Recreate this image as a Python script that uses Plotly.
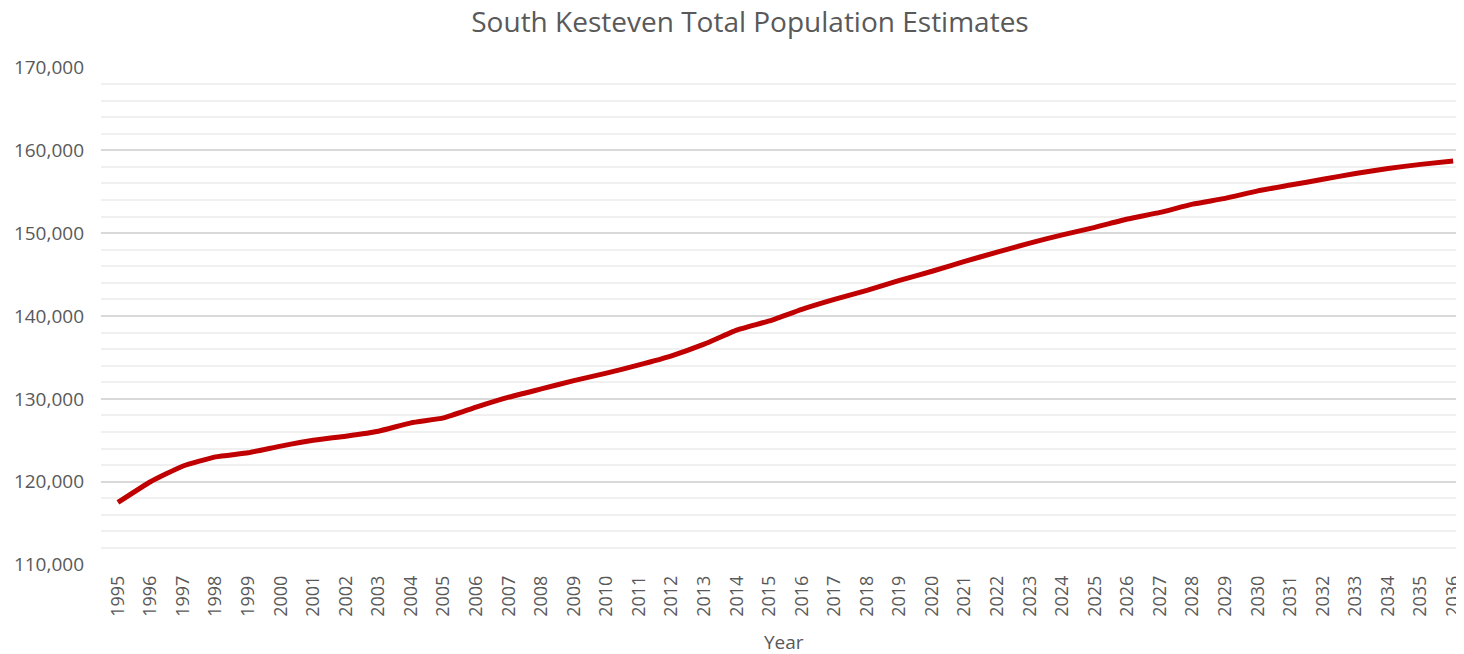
import plotly.graph_objects as go

years = list(range(1995, 2037))
population = [
    117500, 120000, 121900, 123000, 123500, 124300, 125000, 125500, 126100, 127100,
    127700, 129000, 130200, 131200, 132200, 133100, 134100, 135200, 136600, 138300,
    139400, 140800, 142000, 143100, 144300, 145400, 146600, 147700, 148800, 149800,
    150700, 151700, 152500, 153500, 154200, 155100, 155800, 156500, 157200, 157800,
    158300, 158700,
]
y_ticks = [110000, 120000, 130000, 140000, 150000, 160000, 170000]
y_tick_labels = [f"{v:,}" for v in y_ticks]

title_text = "South Kesteven Total Population Estimates"
x_title = "Year"

gray = "#595959"
font_family = "Open Sans"

# page body adds an 8px offset; figure coordinates = reference pixels - 8
W, H = 1456, 646
L, T, B = 93, 59, 89

fig = go.Figure()
fig.add_trace(go.Scatter(
    x=years, y=population, mode="lines",
    line=dict(color="#c00000", width=5, shape="spline", smoothing=0.4),
    hoverinfo="x+y", showlegend=False,
))

fig.update_layout(
    width=W, height=H,
    margin=dict(l=L, r=0, t=T, b=B),
    paper_bgcolor="white", plot_bgcolor="white",
    title=dict(text=title_text, x=(750 - 8) / W, xanchor="center", xref="container",
               y=1 - (22 - 8) / H, yanchor="middle",
               font=dict(family=font_family, size=28, color=gray)),
    font=dict(family=font_family, color=gray),
)

fig.update_xaxes(
    range=[1994.48, 2036.18],
    tickmode="array", tickvals=years, ticktext=[str(y) for y in years],
    tickangle=-90, tickfont=dict(family=font_family, size=18, color=gray),
    showgrid=False, zeroline=False, showline=False, ticks="",
    ticklabelstandoff=6, ticklabeloverflow="allow",
)
fig.update_yaxes(
    range=[109950, 170050],
    tickmode="array", tickvals=y_ticks, ticktext=y_tick_labels,
    tickfont=dict(family=font_family, size=19, color=gray),
    showgrid=True, gridcolor="#d9d9d9", gridwidth=1.5,
    minor=dict(dtick=2000, showgrid=True, gridcolor="#f0f0f0", gridwidth=1.5),
    zeroline=False, showline=False, ticks="", ticklabelstandoff=16,
)

plot_h = H - T - B
fig.add_annotation(
    text=x_title, xref="paper", yref="paper",
    x=(787 - 101) / (W - L), y=(565 - 642) / plot_h,
    xanchor="center", yanchor="middle", showarrow=False,
    font=dict(family=font_family, size=19, color=gray),
)

fig.write_html("out.html")
